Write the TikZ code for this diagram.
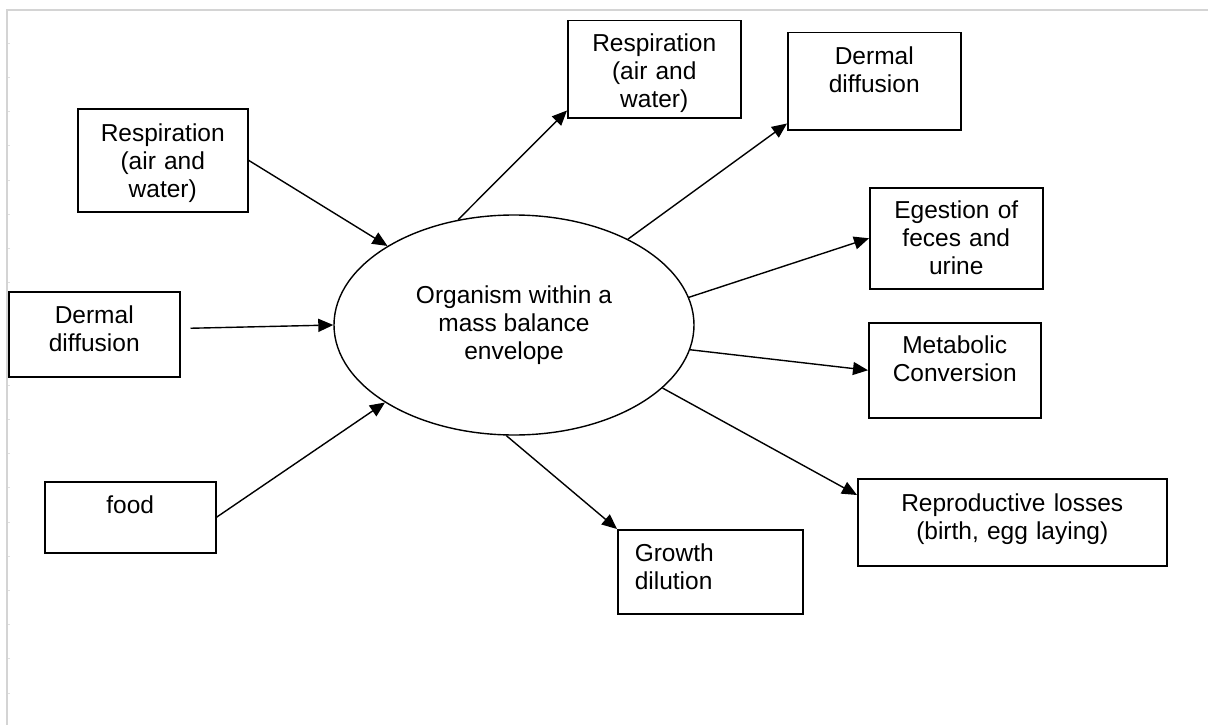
\documentclass[tikz,border=0pt]{standalone}
\usepackage{fontspec}
\setmainfont{Liberation Sans}
\usetikzlibrary{arrows.meta,calc,shapes.geometric}

\begin{document}
\begin{tikzpicture}[x=1pt,y=-1pt, every node/.style={font=\fontsize{24.5}{28}\selectfont}]
    \tikzstyle{frm}=[line width=2pt,color=black!17]
    \tikzstyle{bx}=[draw,line width=1.5pt,anchor=north west,inner sep=0pt,align=center]
    \tikzstyle{marrs}=[line width=1.4pt,-{Triangle[length=15pt,width=13pt]}]

    \useasboundingbox (0,0) rectangle (1208,725);

    % page frame with its ruler marks
    \draw[frm] (7,725) -- (7,10) -- (1208,10);
    \foreach \k in {0,...,19} {
        \draw[color=black!12,line width=1pt] (8,43.3+34.2*\k) -- +(2,0);
    }

    % the organism
    \node[draw,ellipse,line width=1.4pt,minimum width=360pt,minimum height=220pt,inner sep=0pt,align=center] (ell) at (514,325) {Organism within a\\mass balance\\envelope};

    % uptake
    \node[bx,text width=170pt,text height=33pt,text depth=70pt] (lresp) at (77,108) {Respiration\\(air and\\water)};
    \node[bx,text width=171pt,text height=32pt,text depth=53pt] (lderm) at (8,291) {Dermal\\diffusion};
    \node[bx,text width=171pt,text height=32pt,text depth=39pt] (food) at (44,481) {food};

    % losses
    \node[bx,text width=173pt,text height=31pt,text depth=66pt] (tresp) at (567,20) {Respiration\\(air and\\water)};
    \node[bx,text width=173pt,text height=32pt,text depth=65pt] (tderm) at (787,32) {Dermal\\diffusion};
    \node[bx,text width=173pt,text height=31pt,text depth=70pt] (egest) at (869,187) {Egestion of\\feces and\\urine};
    \node[bx,text width=172pt,text height=31pt,text depth=64pt] (metab) at (868,322) {Metabolic\\Conversion};
    \node[bx,text width=309pt,text height=33pt,text depth=54pt] (repro) at (857,478) {Reproductive losses\\(birth, egg laying)};
    \node[bx,align=left,inner xsep=17pt,text width=151pt,text height=32pt,text depth=52pt] (growth) at (617,529) {Growth\\dilution};

    \draw[marrs] (lresp.east) -- (ell.148);
    \draw[marrs] ($(lderm.east)+(10,-6)$) -- (ell.180);
    \draw[marrs] (food.east) -- (ell.211);

    \draw[marrs] (ell.118) -- ($(tresp.south west)+(0,-8)$);
    \draw[marrs] (ell.37) -- ($(tderm.south west)+(0,-7)$);
    \draw[marrs] (ell.9) -- (egest.west);
    \draw[marrs] (ell.352) -- (metab.west);
    \draw[marrs] (ell.337) -- ($(repro.north west)+(0,17)$);
    \draw[marrs] (ell.266) -- (growth.north west);

\end{tikzpicture}
\end{document}
